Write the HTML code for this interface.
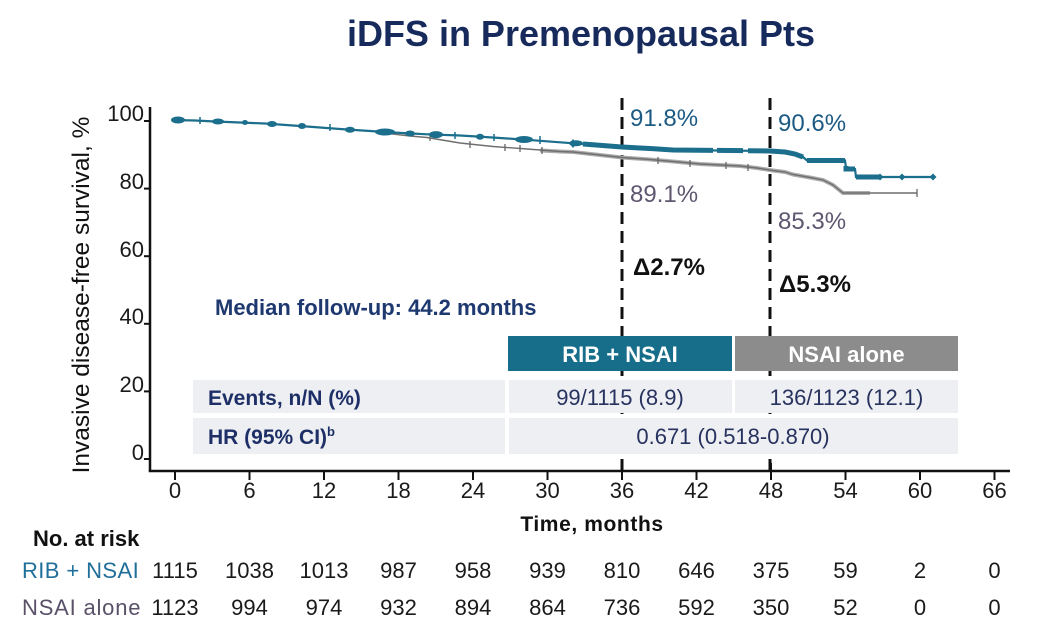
<!DOCTYPE html>
<html><head><meta charset="utf-8"><style>
html,body{margin:0;padding:0;background:#fff;}
svg{display:block;font-family:"Liberation Sans",Arial,sans-serif;}
</style></head><body>
<svg width="1056" height="636" viewBox="0 0 1056 636" xmlns="http://www.w3.org/2000/svg">
<rect width="1056" height="636" fill="#fff"/>
<!-- Title -->
<text x="581" y="46" font-size="36" font-weight="bold" fill="#172a5c" text-anchor="middle">iDFS in Premenopausal Pts</text>

<!-- Y axis label -->
<text transform="translate(89,295) rotate(-90)" font-size="24.5" fill="#111" text-anchor="middle">Invasive disease-free survival, %</text>

<!-- Axes -->
<line x1="150" y1="107" x2="150" y2="471.5" stroke="#111" stroke-width="2.5"/>
<line x1="148.8" y1="471" x2="1010" y2="471" stroke="#111" stroke-width="2.5"/>
<g stroke="#111" stroke-width="2">
<line x1="144" y1="121" x2="150" y2="121"/>
<line x1="144" y1="188.6" x2="150" y2="188.6"/>
<line x1="144" y1="256.2" x2="150" y2="256.2"/>
<line x1="144" y1="323.8" x2="150" y2="323.8"/>
<line x1="144" y1="391.4" x2="150" y2="391.4"/>
<line x1="144" y1="459" x2="150" y2="459"/>
</g>
<g font-size="22" fill="#1a1a1a" text-anchor="end">
<text x="144" y="121">100</text>
<text x="144" y="189">80</text>
<text x="144" y="257">60</text>
<text x="144" y="324">40</text>
<text x="144" y="392">20</text>
<text x="144" y="460">0</text>
</g>
<g stroke="#111" stroke-width="2">
<line x1="175" y1="471" x2="175" y2="480"/>
<line x1="249.5" y1="471" x2="249.5" y2="480"/>
<line x1="324" y1="471" x2="324" y2="480"/>
<line x1="398.5" y1="471" x2="398.5" y2="480"/>
<line x1="473" y1="471" x2="473" y2="480"/>
<line x1="547.5" y1="471" x2="547.5" y2="480"/>
<line x1="622" y1="463" x2="622" y2="480"/>
<line x1="696.5" y1="471" x2="696.5" y2="480"/>
<line x1="771" y1="463" x2="771" y2="480"/>
<line x1="845.5" y1="471" x2="845.5" y2="480"/>
<line x1="920" y1="471" x2="920" y2="480"/>
<line x1="994.5" y1="471" x2="994.5" y2="480"/>
</g>
<g font-size="22" fill="#1a1a1a" text-anchor="middle">
<text x="175" y="498">0</text>
<text x="249.5" y="498">6</text>
<text x="324" y="498">12</text>
<text x="398.5" y="498">18</text>
<text x="473" y="498">24</text>
<text x="547.5" y="498">30</text>
<text x="622" y="498">36</text>
<text x="696.5" y="498">42</text>
<text x="771" y="498">48</text>
<text x="845.5" y="498">54</text>
<text x="920" y="498">60</text>
<text x="994.5" y="498">66</text>
</g>
<text x="592" y="531" font-size="21" font-weight="bold" fill="#111" text-anchor="middle" letter-spacing="0.6">Time, months</text>

<!-- Dashed lines -->
<line x1="622" y1="98" x2="622" y2="470" stroke="#111" stroke-width="3" stroke-dasharray="12,7"/>
<line x1="770" y1="98" x2="770" y2="470" stroke="#111" stroke-width="3" stroke-dasharray="12,7"/>

<!-- Gray curve (NSAI alone) -->
<path d="M540,150.5 L560,151.5 L573,152 L600,155 L622,157.5 L650,159.5 L673,161.5 L700,164 L740,166 L757,168 L773,170.5 L785,172 L793,174.5 L810,177.5 L823,180 L833,185 L838,189 L843,193 L870,193" fill="none" stroke="#acacac" stroke-width="4"/>
<path d="M172,120 L195,120.5 L215,121.5 L240,122.5 L265,123.5 L293,125.5 L320,127.5 L347,129.5 L370,131 L385,132.5 L393,134 L410,136 L427,137.5 L460,143 L493,146.5 L527,149 L560,151.5 L573,152 L600,155 L622,157.5 L650,159.5 L673,161.5 L700,164 L740,166 L757,168 L773,170.5 L785,172 L793,174.5 L810,177.5 L823,180 L833,185 L838,189 L843,193 L917,193" fill="none" stroke="#6f6f6f" stroke-width="1.4"/>
<g stroke="#666" stroke-width="1.3">
<line x1="430" y1="134" x2="430" y2="141"/><line x1="470" y1="141" x2="470" y2="148"/><line x1="505" y1="144" x2="505" y2="151"/><line x1="520" y1="145" x2="520" y2="152"/><line x1="542" y1="147" x2="542" y2="154"/><line x1="658" y1="157" x2="658" y2="164"/><line x1="690" y1="160" x2="690" y2="167"/><line x1="726" y1="162" x2="726" y2="169"/><line x1="748" y1="164" x2="748" y2="171"/><line x1="917" y1="189" x2="917" y2="197"/>
</g>

<!-- Blue curve (RIB + NSAI) -->
<path d="M172,120 L195,120.5 L215,121.5 L240,122.5 L265,123.5 L293,125.5 L320,127.5 L347,129.5 L370,131 L393,132.5 L427,134.3 L460,135.5 L477,136.5 L500,138 L527,139.8 L560,142.3 L583,144 L622,147 L650,148.5 L673,150 L720,150.5 L770,151 L785,152 L795,154 L803,157 L807,160.5 L845,160.5 L846,168 L855,169 L856,177 L933,177" fill="none" stroke="#1b6e8c" stroke-width="2.2"/>
<g fill="none" stroke="#1b6e8c" stroke-width="5">
<path d="M583,144 L622,147 L650,148.5 L673,150 L713,150.4"/>
<path d="M717,150.4 L743,150.6"/>
<path d="M748,150.7 L770,151 L785,152 L795,154 L803,157"/>
<path d="M807,160.5 L845,160.5"/>
<path d="M846,166 L846,169 L855,169"/>
<path d="M856,177 L880,177"/>
</g>
<g fill="#1b6e8c">
<ellipse cx="178" cy="120" rx="7" ry="3.5"/>
<ellipse cx="218" cy="121.5" rx="6" ry="3"/>
<ellipse cx="245" cy="122.5" rx="3" ry="2.5"/>
<ellipse cx="272" cy="124" rx="5" ry="3"/>
<ellipse cx="302" cy="126" rx="4" ry="3"/>
<ellipse cx="350" cy="129.7" rx="5" ry="3"/>
<ellipse cx="385" cy="132" rx="10" ry="3.5"/>
<ellipse cx="410" cy="133.5" rx="5" ry="3"/>
<ellipse cx="436" cy="134.6" rx="7" ry="3.5"/>
<ellipse cx="480" cy="136.8" rx="4" ry="3"/>
<ellipse cx="524" cy="139.5" rx="9" ry="3.5"/>
<ellipse cx="576" cy="143.3" rx="7" ry="3"/>
<polygon points="573,139 576.5,143.5 573,148 569.5,143.5"/>
<polygon points="880,173.5 883.5,177 880,180.5 876.5,177"/>
<polygon points="902,173.5 905.5,177 902,180.5 898.5,177"/>
<polygon points="933,173.5 936.5,177 933,180.5 929.5,177"/>
</g>
<g stroke="#1b6e8c" stroke-width="1.5">
<line x1="200" y1="117" x2="200" y2="124"/><line x1="330" y1="124" x2="330" y2="131"/><line x1="455" y1="132" x2="455" y2="139"/><line x1="494" y1="134" x2="494" y2="141"/><line x1="540" y1="136" x2="540" y2="144"/>
</g>

<!-- Annotations -->
<text x="630" y="126" font-size="24" fill="#1c5a84">91.8%</text>
<text x="778" y="131" font-size="24" fill="#1c5a84">90.6%</text>
<text x="630" y="202" font-size="24" fill="#5f5670">89.1%</text>
<text x="778" y="229" font-size="24" fill="#5f5670">85.3%</text>
<text x="633" y="275" font-size="24" font-weight="bold" fill="#111">Δ2.7%</text>
<text x="779" y="292" font-size="24" font-weight="bold" fill="#111">Δ5.3%</text>
<text x="215" y="315" font-size="22" font-weight="bold" fill="#1e3870">Median follow-up: 44.2 months</text>

<!-- Table -->
<rect x="508" y="336" width="224" height="35" fill="#176e8a"/>
<rect x="735" y="336" width="223" height="35" fill="#8c8c8c"/>
<text x="620" y="362" font-size="22" font-weight="bold" fill="#fff" text-anchor="middle">RIB + NSAI</text>
<text x="846.5" y="362" font-size="22" font-weight="bold" fill="#fff" text-anchor="middle">NSAI alone</text>
<rect x="193" y="380" width="312" height="33" fill="#edeff3"/>
<rect x="509" y="380" width="223" height="33" fill="#edeff3"/>
<rect x="735" y="380" width="223" height="33" fill="#edeff3"/>
<rect x="193" y="418" width="312" height="36" fill="#edeff3"/>
<rect x="509" y="418" width="449" height="36" fill="#edeff3"/>
<text x="208" y="405" font-size="21" font-weight="bold" fill="#1d2f66">Events, n/N (%)</text>
<text x="208" y="444" font-size="21" font-weight="bold" fill="#1d2f66">HR (95% CI)<tspan font-size="13" dy="-8">b</tspan></text>
<text x="620" y="405" font-size="22" fill="#27325e" text-anchor="middle">99/1115 (8.9)</text>
<text x="846.5" y="405" font-size="22" fill="#27325e" text-anchor="middle">136/1123 (12.1)</text>
<text x="733" y="444" font-size="22" fill="#27325e" text-anchor="middle">0.671 (0.518-0.870)</text>

<!-- Risk table -->
<text x="33" y="546" font-size="22" font-weight="bold" fill="#111">No. at risk</text>
<text x="22" y="578" font-size="22" fill="#1f6f9a" letter-spacing="0.4">RIB + NSAI</text>
<text x="22" y="615" font-size="22" fill="#5a5068" letter-spacing="0.8">NSAI alone</text>
<g font-size="22" fill="#1a1a1a" text-anchor="middle">
<text x="175" y="578">1115</text><text x="249.5" y="578">1038</text><text x="324" y="578">1013</text><text x="398.5" y="578">987</text><text x="473" y="578">958</text><text x="547.5" y="578">939</text><text x="622" y="578">810</text><text x="696.5" y="578">646</text><text x="771" y="578">375</text><text x="845.5" y="578">59</text><text x="920" y="578">2</text><text x="994.5" y="578">0</text>
<text x="175" y="615">1123</text><text x="249.5" y="615">994</text><text x="324" y="615">974</text><text x="398.5" y="615">932</text><text x="473" y="615">894</text><text x="547.5" y="615">864</text><text x="622" y="615">736</text><text x="696.5" y="615">592</text><text x="771" y="615">350</text><text x="845.5" y="615">52</text><text x="920" y="615">0</text><text x="994.5" y="615">0</text>
</g>
</svg>
</body></html>
